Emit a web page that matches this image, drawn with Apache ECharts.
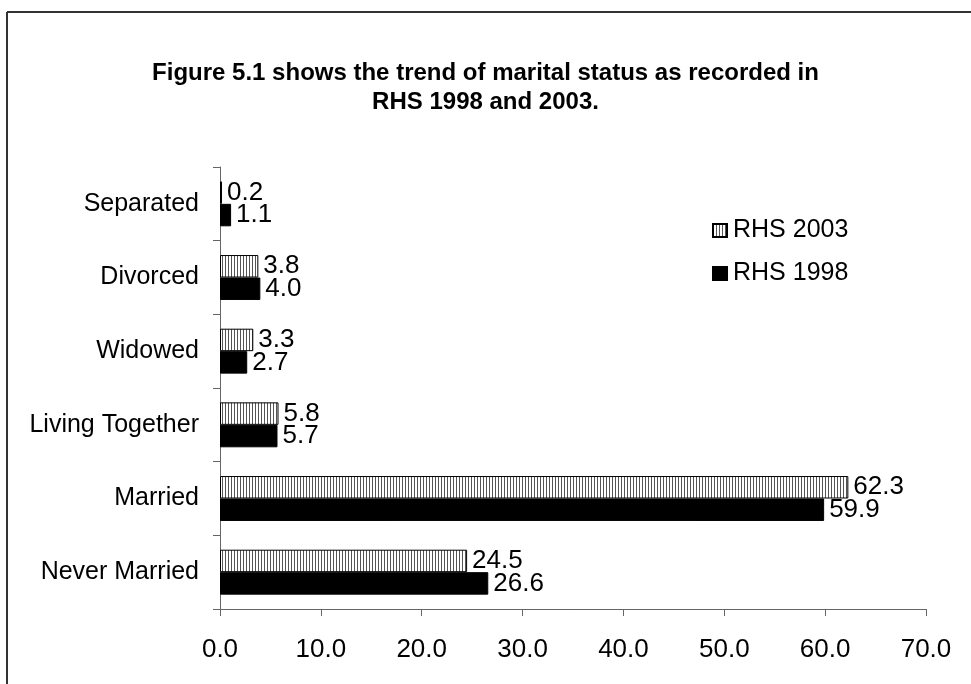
<!DOCTYPE html>
<html>
<head>
<meta charset="utf-8">
<script src="https://cdn.jsdelivr.net/npm/echarts@6/dist/echarts.min.js"></script>
<style>
html, body { margin: 0; padding: 0; background: #fff; }
#main { width: 971px; height: 684px; }
</style>
</head>
<body>
<div id="main"></div>
<script>
// marital status, bottom to top
const categories = ['Never Married', 'Married', 'Living Together', 'Widowed', 'Divorced', 'Separated']
const rhs1998 = [26.6, 59.9, 5.7, 2.7, 4.0, 1.1]
const rhs2003 = [24.5, 62.3, 5.8, 3.3, 3.8, 0.2]
const xTicks = [0, 70, 10]  // min, max, interval

// vertical stripe fill for RHS 2003
const stripe = document.createElement('canvas')
stripe.width = 3
stripe.height = 4
const sctx = stripe.getContext('2d')
sctx.fillStyle = '#fff'
sctx.fillRect(0, 0, 3, 4)
sctx.fillStyle = '#555'
sctx.fillRect(0, 0, 1, 4)

const font = 'Liberation Sans, Arial, sans-serif'
const valueLabel = {
  show: true,
  position: 'right',
  distance: 5,
  color: '#000',
  fontSize: 26,
  fontFamily: font,
  formatter: p => p.value.toFixed(1)
}

const option = {
  backgroundColor: '#fff',
  animation: false,
  title: {
    text: 'Figure 5.1 shows the trend of marital status as recorded in\nRHS 1998 and 2003.',
    left: 'center',
    top: 54,
    textStyle: {
      fontSize: 24,
      fontWeight: 'bold',
      fontFamily: font,
      color: '#000',
      lineHeight: 29
    }
  },
  legend: {
    orient: 'vertical',
    left: 707,
    top: 213,
    itemWidth: 14,
    itemHeight: 13,
    itemGap: 18,
    icon: 'rect',
    data: ['RHS 2003', 'RHS 1998'],
    textStyle: { fontSize: 25, fontFamily: font, color: '#000', padding: [0, 0, 0, 1] }
  },
  grid: { left: 220, right: 45, top: 167, bottom: 75 },
  xAxis: {
    type: 'value',
    min: xTicks[0],
    max: xTicks[1],
    interval: xTicks[2],
    splitLine: { show: false },
    axisLine: { show: true, lineStyle: { color: '#666', width: 1 } },
    axisTick: { show: true, length: 7, lineStyle: { color: '#666' } },
    axisLabel: {
      margin: 28,
      fontSize: 26,
      fontFamily: font,
      color: '#000',
      formatter: v => v.toFixed(1)
    }
  },
  yAxis: {
    type: 'category',
    data: categories,
    axisLine: { show: true, lineStyle: { color: '#666', width: 1 } },
    axisTick: { show: true, length: 7, inside: false, lineStyle: { color: '#666' } },
    axisLabel: { margin: 21, fontSize: 25, fontFamily: font, color: '#000' }
  },
  series: [
    {
      name: 'RHS 2003',
      type: 'bar',
      data: rhs2003,
      barGap: '0%',
      barCategoryGap: '39%',
      itemStyle: {
        color: { image: stripe, repeat: 'repeat' },
        borderColor: '#000',
        borderWidth: 1
      },
      label: valueLabel
    },
    {
      name: 'RHS 1998',
      type: 'bar',
      data: rhs1998,
      barGap: '0%',
      barCategoryGap: '39%',
      itemStyle: { color: '#000', borderColor: '#000', borderWidth: 1 },
      label: valueLabel
    }
  ],
  graphic: [
    { type: 'line', shape: { x1: 7, y1: 12, x2: 971, y2: 12 }, style: { stroke: '#333', lineWidth: 2 } },
    { type: 'line', shape: { x1: 7, y1: 12, x2: 7, y2: 684 }, style: { stroke: '#333', lineWidth: 2 } }
  ]
}

const myChart = echarts.init(document.getElementById('main'))
myChart.setOption(option)
</script>
</body>
</html>
